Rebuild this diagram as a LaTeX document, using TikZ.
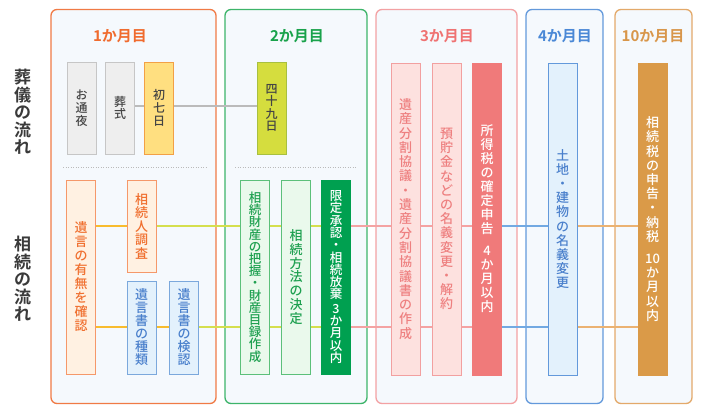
\documentclass[tikz,border=0pt]{standalone}
\usepackage{fontspec}
\setmainfont{Noto Sans CJK JP Medium}[BoldFont={Noto Sans CJK JP Bold}]
\usetikzlibrary{calc}
\definecolor{panelbg}{HTML}{F5F9FD}
\definecolor{pA}{HTML}{F07A45}\definecolor{tA}{HTML}{F06B2E}
\definecolor{pB}{HTML}{3DB46A}\definecolor{tB}{HTML}{19A24B}
\definecolor{pC}{HTML}{F3A1A3}\definecolor{tC}{HTML}{EF7272}
\definecolor{pD}{HTML}{6399DB}\definecolor{tD}{HTML}{4A88D6}
\definecolor{pE}{HTML}{E3A96A}\definecolor{tE}{HTML}{D8964A}
\definecolor{grayfill}{HTML}{EEEEEE}\definecolor{grayline}{HTML}{C6C6C6}\definecolor{graytxt}{HTML}{444444}
\definecolor{yelfill}{HTML}{FFDF80}\definecolor{yelline}{HTML}{F2A046}
\definecolor{ygfill}{HTML}{D5DD3E}\definecolor{ygline}{HTML}{A8C040}
\definecolor{orfill}{HTML}{FFF1E2}\definecolor{orline}{HTML}{F5986A}\definecolor{ortxt}{HTML}{F07030}
\definecolor{blfill}{HTML}{E3F1FC}\definecolor{blline}{HTML}{7BA8DC}\definecolor{bltxt}{HTML}{4A80CC}
\definecolor{grfill}{HTML}{EAF9EC}\definecolor{grline}{HTML}{5CC07A}\definecolor{grtxt}{HTML}{1EA050}
\definecolor{dkgreen}{HTML}{00A050}
\definecolor{pkfill}{HTML}{FDE1DF}\definecolor{pkline}{HTML}{F2A0A0}\definecolor{pktxt}{HTML}{EE8080}
\definecolor{redfill}{HTML}{F07A7A}
\definecolor{brfill}{HTML}{DA9A48}
\definecolor{lnOY}{HTML}{F8BC2E}\definecolor{lnYG}{HTML}{D5DF4E}\definecolor{lnPK}{HTML}{F4A3A3}
\definecolor{lnBL}{HTML}{72A9E2}\definecolor{lnOR}{HTML}{EBB272}\definecolor{lnGR}{HTML}{BBBBBB}
\definecolor{labeltxt}{HTML}{3A3A3A}
\begin{document}
\begin{tikzpicture}[x=1pt,y=-1pt,
  panel/.style={draw=#1, line width=1.3pt, rounded corners=6pt, fill=panelbg},
  ptitle/.style={text=#1, font=\fontsize{15}{15}\selectfont\bfseries},
  rowlabel/.style={text=labeltxt, align=center, inner sep=0pt, font=\fontsize{17}{17.5}\selectfont\bfseries},
  vbox/.style={draw, line width=1pt, inner sep=0pt, align=center, minimum width=29},
  graybox/.style={vbox, fill=grayfill, draw=grayline, text=graytxt, minimum height=92, font=\fontsize{12}{13}\selectfont},
  orbox/.style={vbox, fill=orfill, draw=orline, text=ortxt},
  blbox/.style={vbox, fill=blfill, draw=blline, text=bltxt},
  grbox/.style={vbox, fill=grfill, draw=grline, text=grtxt},
  pkbox/.style={vbox, fill=pkfill, draw=pkline, text=pktxt},
  conn/.style={line width=1.2pt, draw=#1},
  sep/.style={draw=lnGR, line width=0.9pt, dash pattern=on 1pt off 1.5pt}
]
\useasboundingbox (0,0) rectangle (709,413);
% panels
\draw[panel=pA] (51,9.5) rectangle (216,403.5);
\draw[panel=pB] (225,9.5) rectangle (367,403.5);
\draw[panel=pC] (376,9.5) rectangle (517,403.5);
\draw[panel=pD] (526,9.5) rectangle (603,403.5);
\draw[panel=pE] (615,9.5) rectangle (692,403.5);
\node[ptitle=tA] (t1) at (120,36) {1か月目};
\node[ptitle=tB] (t2) at (297,36) {2か月目};
\node[ptitle=tC] (t3) at (447,36) {3か月目};
\node[ptitle=tD] (t4) at (565,36) {4か月目};
\node[ptitle=tE] (t5) at (653,36) {10か月目};
% row labels
\node[rowlabel] (r1) at (22.5,112) {葬\\儀\\の\\流\\れ};
\node[rowlabel] (r2) at (22.5,279) {相\\続\\の\\流\\れ};
% separators
\coordinate (s1a) at (63,167); \coordinate (s1b) at (207,167);
\coordinate (s2a) at (235,167); \coordinate (s2b) at (357,167);
\draw[sep] (s1a) -- (s1b);
\draw[sep] (s2a) -- (s2b);
% funeral boxes
\node[graybox] (otsuya) at (81.5,108) {お\\通\\夜};
\node[graybox, font=\fontsize{12}{12.5}\selectfont] (soushiki) at (120,108) {葬\\式};
\node[graybox, fill=yelfill, draw=yelline] (shonanoka) at (159,108) {初\\七\\日};
\node[graybox, fill=ygfill, draw=ygline, font=\fontsize{12}{12.5}\selectfont] (shijuku) at (271.5,108) {四\\十\\九\\日};
% inheritance boxes
\node[orbox, minimum height=194, font=\fontsize{13}{14}\selectfont] (yuigon) at (81,277) {遺\\言\\の\\有\\無\\を\\確\\認};
\node[orbox, minimum height=92, font=\fontsize{13}{13.5}\selectfont] (jinchosa) at (141.5,226) {相\\続\\人\\調\\査};
\node[blbox, minimum height=93, font=\fontsize{13}{13}\selectfont] (shurui) at (141.5,327.5) {遺\\言\\書\\の\\種\\類};
\node[blbox, minimum height=93, font=\fontsize{13}{13}\selectfont] (kennin) at (184,327.5) {遺\\言\\書\\の\\検\\認};
\node[grbox, minimum height=194, font=\fontsize{12.5}{12.2}\selectfont] (zaisan) at (255,277) {相\\続\\財\\産\\の\\把\\握\\・\\財\\産\\目\\録\\作\\成};
\node[grbox, minimum height=194, font=\fontsize{13}{13.7}\selectfont] (houhou) at (296,277) {相\\続\\方\\法\\の\\決\\定};
\node[vbox, fill=dkgreen, draw=dkgreen, text=white, minimum height=194, font=\fontsize{12.5}{12.3}\selectfont] (gentei) at (336,277) {限\\定\\承\\認\\・\\相\\続\\放\\棄\\[2pt]3\\か\\月\\以\\内};
\node[pkbox, minimum height=312, font=\fontsize{13}{14.3}\selectfont] (bunkatsu) at (405.5,219) {遺\\産\\分\\割\\協\\議\\・\\遺\\産\\分\\割\\協\\議\\書\\の\\作\\成};
\node[pkbox, minimum height=312, font=\fontsize{13}{14.2}\selectfont] (yochokin) at (446.5,219) {預\\貯\\金\\な\\ど\\の\\名\\義\\変\\更\\・\\解\\約};
\node[vbox, fill=redfill, draw=redfill, text=white, minimum height=312, font=\fontsize{13}{14}\selectfont] (shotoku) at (487,219) {所\\得\\税\\の\\確\\定\\申\\告\\[8pt]4\\か\\月\\以\\内};
\node[blbox, minimum height=312, draw=pD, font=\fontsize{13}{14.2}\selectfont] (tochi) at (562.5,219) {土\\地\\・\\建\\物\\の\\名\\義\\変\\更};
\node[vbox, fill=brfill, draw=brfill, text=white, minimum height=312, font=\fontsize{13}{14.2}\selectfont] (souzokuzei) at (652.5,219) {相\\続\\税\\の\\申\\告\\・\\納\\税\\[8pt]10\\か\\月\\以\\内};
% connector rows
\coordinate (ya) at (0,226); \coordinate (yb) at (0,327); \coordinate (yc) at (0,106);
\draw[conn=lnGR] (soushiki.east |- yc) -- (shonanoka.west |- yc);
\draw[conn=lnGR] (shonanoka.east |- yc) -- (shijuku.west |- yc);
% upper
\draw[conn=lnOY] (yuigon.east |- ya) -- (jinchosa.west |- ya);
\draw[conn=lnYG] (jinchosa.east |- ya) -- (zaisan.west |- ya);
\draw[conn=lnYG] (zaisan.east |- ya) -- (houhou.west |- ya);
\draw[conn=lnYG] (houhou.east |- ya) -- (gentei.west |- ya);
\draw[conn=lnPK] (gentei.east |- ya) -- (bunkatsu.west |- ya);
\draw[conn=lnPK] (bunkatsu.east |- ya) -- (yochokin.west |- ya);
\draw[conn=lnPK] (yochokin.east |- ya) -- (shotoku.west |- ya);
\draw[conn=lnBL] (shotoku.east |- ya) -- (tochi.west |- ya);
\draw[conn=lnOR] (tochi.east |- ya) -- (souzokuzei.west |- ya);
% lower
\draw[conn=lnOY] (yuigon.east |- yb) -- (shurui.west |- yb);
\draw[conn=lnOY] (shurui.east |- yb) -- (kennin.west |- yb);
\draw[conn=lnYG] (kennin.east |- yb) -- (zaisan.west |- yb);
\draw[conn=lnYG] (zaisan.east |- yb) -- (houhou.west |- yb);
\draw[conn=lnYG] (houhou.east |- yb) -- (gentei.west |- yb);
\draw[conn=lnPK] (gentei.east |- yb) -- (bunkatsu.west |- yb);
\draw[conn=lnPK] (bunkatsu.east |- yb) -- (yochokin.west |- yb);
\draw[conn=lnPK] (yochokin.east |- yb) -- (shotoku.west |- yb);
\draw[conn=lnBL] (shotoku.east |- yb) -- (tochi.west |- yb);
\draw[conn=lnOR] (tochi.east |- yb) -- (souzokuzei.west |- yb);
\end{tikzpicture}
\end{document}
